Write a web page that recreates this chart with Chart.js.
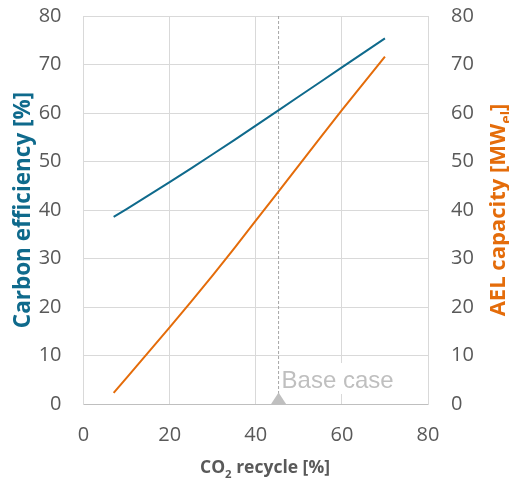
<!DOCTYPE html>
<html lang="en">
<head>
<meta charset="UTF-8">
<title>Carbon efficiency and AEL capacity vs CO2 recycle</title>
<script src="https://cdn.jsdelivr.net/npm/chart.js"></script>
<style>
  html, body { margin: 0; padding: 0; background: #fff; }
  #wrap { width: 509px; height: 484px; position: relative; }
</style>
</head>
<body>
<div id="wrap"><canvas id="chart"></canvas></div>
<script>
// CO2 recycle [%]
const recycle = [7, 10, 15, 20, 25, 30, 35, 40, 45, 50, 55, 60, 65, 70];
// Carbon efficiency [%] (left axis)
const carbonEff = [38.6, 40.2, 42.95, 45.75, 48.6, 51.5, 54.4, 57.4, 60.4, 63.4, 66.4, 69.4, 72.4, 75.4];
// AEL capacity [MW_el] (right axis)
const aelCapacity = [2.3, 5.4, 10.6, 15.8, 21.1, 26.5, 32.1, 37.8, 43.5, 49.2, 54.9, 60.6, 66.1, 71.6];
// base case marker
const baseCaseX = 45.3;
const baseCaseLabel = 'Base case';
const xTicks = [0, 20, 40, 60, 80];
const yTicks = [0, 10, 20, 30, 40, 50, 60, 70, 80];

const BLUE = '#0f6a8c';
const ORANGE = '#e46c0a';
const TICK = '#595959';

const toPts = (xs, ys) => xs.map((x, i) => ({ x: x, y: ys[i] }));

// fixed axis sizes so the plot area sits where the original one does
function fixY(width) {
  return s => { s.width = width; s.paddingTop = 16; s.paddingBottom = 0; };
}

// axis titles with subscripts + base case label
const titles = {
  id: 'titles',
  afterDraw(chart) {
    const ctx = chart.ctx;
    const a = chart.chartArea;
    const yMid = 210;

    function setFont(size, sub) {
      ctx.font = 'bold ' + (sub ? size * 0.65 : size) + 'px "Open Sans"';
    }
    function drawRuns(parts, size, color) {
      let w = 0;
      parts.forEach(p => { setFont(size, p[1]); w += ctx.measureText(p[0]).width; });
      ctx.fillStyle = color;
      ctx.textBaseline = 'alphabetic';
      ctx.textAlign = 'left';
      let x = -w / 2;
      parts.forEach(p => {
        setFont(size, p[1]);
        ctx.fillText(p[0], x, p[1] ? size * 0.28 : 0);
        x += ctx.measureText(p[0]).width;
      });
    }

    ctx.save();
    // left title
    ctx.save();
    ctx.translate(30, yMid);
    ctx.rotate(-Math.PI / 2);
    drawRuns([['Carbon efficiency [%]', false]], 22.5, BLUE);
    ctx.restore();
    // right title
    ctx.save();
    ctx.translate(505, yMid);
    ctx.rotate(-Math.PI / 2);
    drawRuns([['AEL capacity [MW', false], ['el', true], [']', false]], 22, ORANGE);
    ctx.restore();
    // x title
    ctx.save();
    ctx.translate(265, 473);
    drawRuns([['CO', false], ['2', true], [' recycle [%]', false]], 17.5, TICK);
    ctx.restore();

    // base case label with white box
    const xs = chart.scales.x;
    const px = xs.getPixelForValue(baseCaseX);
    ctx.font = '24px "Liberation Sans"';
    const tw = ctx.measureText(baseCaseLabel).width;
    ctx.fillStyle = '#ffffff';
    ctx.fillRect(px + 2.5, a.bottom - 41, tw + 2, 31);
    ctx.fillStyle = '#bfbfbf';
    ctx.textAlign = 'left';
    ctx.textBaseline = 'alphabetic';
    ctx.fillText(baseCaseLabel, px + 3, a.bottom - 16);
    // triangle marker at base
    ctx.beginPath();
    ctx.moveTo(px, a.bottom - 11.5);
    ctx.lineTo(px + 7.5, a.bottom);
    ctx.lineTo(px - 7.5, a.bottom);
    ctx.closePath();
    ctx.fill();
    ctx.restore();
  }
};

new Chart(document.getElementById('chart'), {
  type: 'line',
  data: {
    datasets: [
      {
        label: 'Carbon efficiency',
        data: toPts(recycle, carbonEff),
        borderColor: BLUE,
        borderWidth: 2,
        pointRadius: 0,
        tension: 0,
        yAxisID: 'y'
      },
      {
        label: 'AEL capacity',
        data: toPts(recycle, aelCapacity),
        borderColor: ORANGE,
        borderWidth: 2,
        pointRadius: 0,
        tension: 0,
        yAxisID: 'y2'
      },
      {
        label: 'Base case',
        data: [{ x: baseCaseX, y: 0 }, { x: baseCaseX, y: 80 }],
        borderColor: '#a6a6a6',
        borderWidth: 1,
        borderDash: [3, 2],
        pointRadius: 0,
        yAxisID: 'y'
      }
    ]
  },
  options: {
    responsive: true,
    maintainAspectRatio: false,
    animation: false,
    layout: { padding: 0 },
    plugins: { legend: { display: false }, tooltip: { enabled: false } },
    scales: {
      x: {
        type: 'linear',
        min: 0, max: 80,
        afterBuildTicks: s => { s.ticks = xTicks.map(v => ({ value: v })); },
        afterFit: s => { s.height = 80; s.paddingLeft = 0; s.paddingRight = 0; },
        grid: { color: '#d9d9d9', drawTicks: false },
        border: { color: '#bfbfbf' },
        ticks: { color: TICK, padding: 19, font: { family: '"Open Sans"', size: 20 } }
      },
      y: {
        position: 'left',
        min: 0, max: 80,
        afterBuildTicks: s => { s.ticks = yTicks.map(v => ({ value: v })); },
        afterFit: fixY(83.5),
        grid: { color: '#d9d9d9', drawTicks: false },
        border: { color: '#d9d9d9' },
        ticks: { color: TICK, padding: 22, font: { family: '"Open Sans"', size: 20 } }
      },
      y2: {
        position: 'right',
        min: 0, max: 80,
        afterBuildTicks: s => { s.ticks = yTicks.map(v => ({ value: v })); },
        afterFit: fixY(81),
        grid: { display: false, drawTicks: false },
        border: { color: '#d9d9d9' },
        ticks: { color: TICK, padding: 23, font: { family: '"Open Sans"', size: 20 } }
      }
    }
  },
  plugins: [titles]
});
</script>
</body>
</html>
